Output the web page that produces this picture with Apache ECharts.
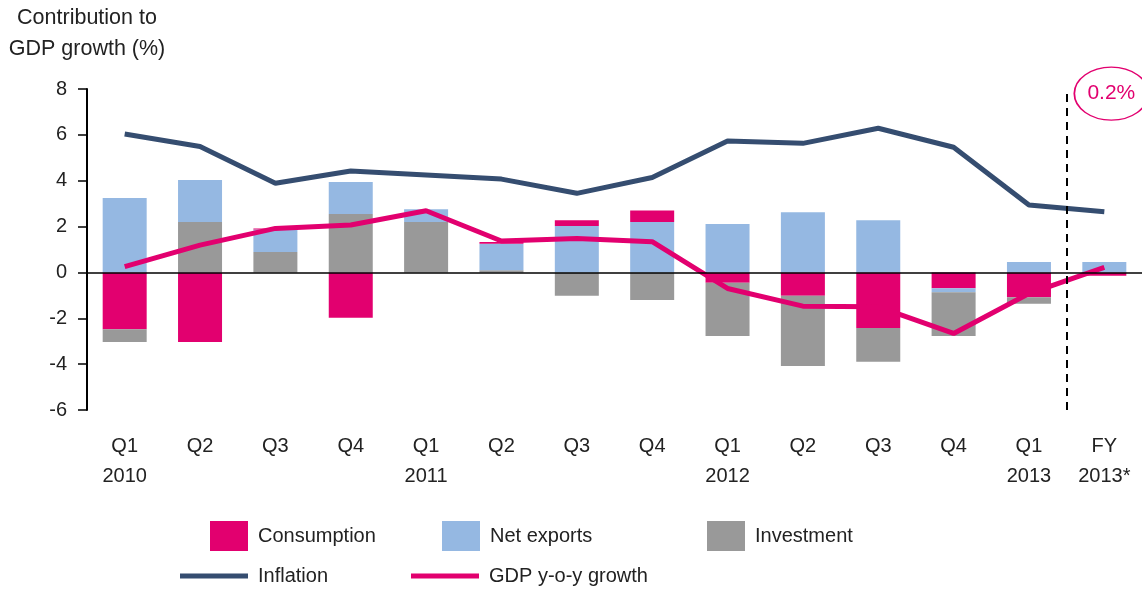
<!DOCTYPE html>
<html>
<head>
<meta charset="utf-8">
<script src="https://cdn.jsdelivr.net/npm/echarts@6/dist/echarts.min.js"></script>
<style>
html, body { margin: 0; padding: 0; background: #fff; }
#main { width: 1142px; height: 596px; }
</style>
</head>
<body>
<div id="main"></div>
<script>
// data
var categories = ['Q1\n2010', 'Q2', 'Q3', 'Q4', 'Q1\n2011', 'Q2', 'Q3', 'Q4', 'Q1\n2012', 'Q2', 'Q3', 'Q4', 'Q1\n2013', 'FY\n2013*'];
var consumption = [-2.48, -3.03, 0.05, -1.98, 0, 0.08, 0.26, 0.5, -0.45, -1.02, -2.42, -0.69, -1.08, -0.15];
var netExports = [3.25, 1.83, 0.98, 1.39, 0.56, 1.15, 2.02, 2.2, 2.11, 2.63, 2.28, -0.17, 0.45, 0.45];
var investment = [-0.55, 2.2, 0.89, 2.55, 2.2, 0.1, -1.02, -1.2, -2.32, -3.06, -1.48, -1.91, -0.29, 0];
var inflation = [6.04, 5.49, 3.89, 4.42, 4.25, 4.07, 3.45, 4.14, 5.73, 5.63, 6.29, 5.46, 2.94, 2.65];
var gdpGrowth = [0.25, 1.19, 1.92, 2.07, 2.69, 1.37, 1.48, 1.34, -0.7, -1.47, -1.5, -2.66, -0.92, 0.22];
var fyLabel = '0.2%';
var fyLabelPos = [13, 7.8];
var forecastSplit = 12.5; // dashed line between Q1 2013 and FY 2013

var MAGENTA = '#e2006f';
var BLUE = '#95b8e2';
var GREY = '#999999';
var NAVY = '#354d70';
var FONT = "'Liberation Sans', Arial, sans-serif";

function pos(arr) { return arr.map(function(v) { return v > 0 ? v : 0; }); }
function neg(arr) { return arr.map(function(v) { return v < 0 ? v : 0; }); }

function bar(name, data, color) {
	return {
		name: name,
		type: 'bar',
		stack: 'gdp',
		barWidth: 44,
		itemStyle: { color: color },
		data: data
	};
}

function legendItem(name, left, top, isLine) {
	return {
		data: [name],
		left: left,
		top: top,
		padding: 0,
		icon: 'rect',
		itemWidth: isLine ? 68 : 38,
		itemHeight: isLine ? 5 : 30,
		selectedMode: false,
		textStyle: { fontFamily: FONT, fontSize: 20, color: '#222', padding: [8, 0, 0, 5] }
	};
}

var option = {
	animation: false,
	backgroundColor: '#fff',
	graphic: [{
		type: 'text',
		x: 87,
		y: 3,
		style: {
			text: 'Contribution to\nGDP growth (%)',
			textAlign: 'center',
			font: '21.5px ' + FONT,
			lineHeight: 31,
			fill: '#222'
		}
	}],
	legend: [
		legendItem('Consumption', 210, 521),
		legendItem('Net exports', 442, 521),
		legendItem('Investment', 707, 521),
		legendItem('Inflation', 180, 566, true),
		legendItem('GDP y-o-y growth', 411, 566, true)
	],
	grid: { left: 87, top: 89, width: 1057, height: 321 },
	xAxis: [{
		type: 'category',
		data: categories,
		axisLine: { show: false, onZero: false },
		axisTick: { show: false },
		axisLabel: { fontFamily: FONT, fontSize: 20, color: '#222', lineHeight: 30, margin: 21 }
	}, {
		type: 'value',
		min: -0.5,
		max: 13.5,
		show: false
	}],
	yAxis: {
		type: 'value',
		min: -6,
		max: 8,
		interval: 2,
		axisLine: { show: true, onZero: false, lineStyle: { color: '#000', width: 2 } },
		axisTick: { show: true, length: 9, lineStyle: { color: '#000', width: 1.5 } },
		axisLabel: { fontFamily: FONT, fontSize: 20, color: '#222', margin: 20 },
		splitLine: { show: false }
	},
	series: [
		// negatives stack down in this order
		bar('Consumption', neg(consumption), MAGENTA),
		bar('Net exports', neg(netExports), BLUE),
		bar('Investment', neg(investment), GREY),
		// positives stack up in this order
		bar('Investment', pos(investment), GREY),
		bar('Net exports', pos(netExports), BLUE),
		bar('Consumption', pos(consumption), MAGENTA),
		{
			name: 'Inflation',
			type: 'line',
			data: inflation,
			symbol: 'none',
			color: NAVY,
			lineStyle: { color: NAVY, width: 5 },
			z: 4
		},
		{
			name: 'GDP y-o-y growth',
			type: 'line',
			data: gdpGrowth,
			symbol: 'none',
			color: MAGENTA,
			lineStyle: { color: MAGENTA, width: 5 },
			z: 4,
			markPoint: {
				silent: true,
				symbol: 'circle',
				symbolSize: [74, 53],
				symbolOffset: [7, 0],
				itemStyle: { color: 'rgba(255,255,255,0)', borderColor: MAGENTA, borderWidth: 1.5 },
				label: { show: true, position: 'inside', formatter: fyLabel, color: MAGENTA, fontFamily: FONT, fontSize: 21 },
				data: [{ coord: fyLabelPos }]
			}
		},
		{
			// zero line + forecast divider
			type: 'line',
			xAxisIndex: 1,
			data: [],
			z: 3,
			markLine: {
				silent: true,
				symbol: 'none',
				label: { show: false },
				data: [
					{ yAxis: 0, lineStyle: { color: '#000', width: 1.5, type: 'solid' } },
					{ xAxis: forecastSplit, lineStyle: { color: '#000', width: 2, type: [8, 6] } }
				]
			}
		}
	]
};

var myChart = echarts.init(document.getElementById('main'));
myChart.setOption(option, true);
</script>
</body>
</html>
